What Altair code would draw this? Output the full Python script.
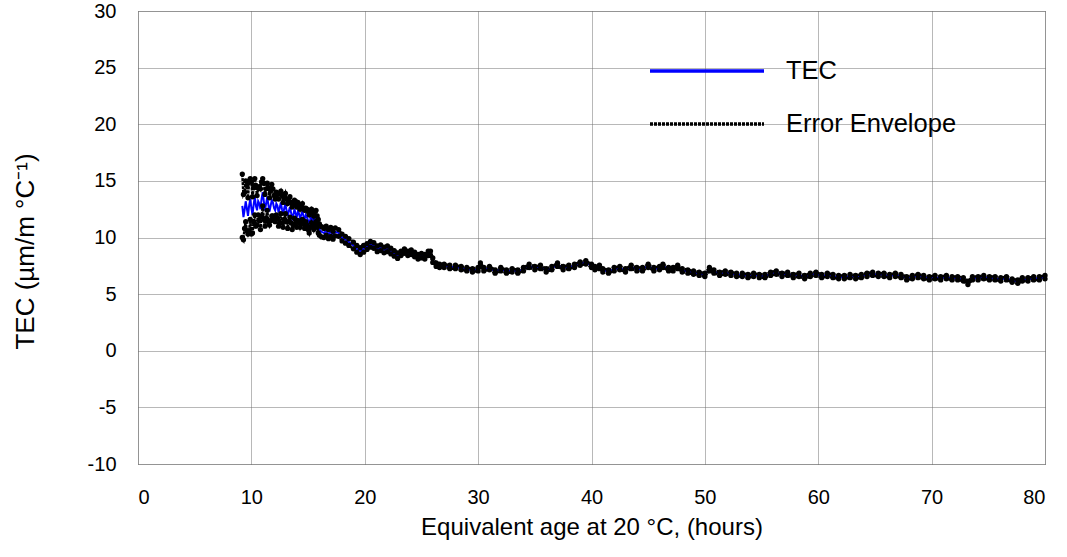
import altair as alt
import pandas as pd

# Equivalent age (hours)
hours = [
    9.2, 9.3, 9.4, 9.5, 9.6, 9.7, 9.8, 9.9, 10.0, 10.1, 10.2, 10.3, 10.4, 10.5,
    10.6, 10.7, 10.8, 10.9, 11.0, 11.1, 11.2, 11.3, 11.4, 11.5, 11.6, 11.7, 11.8,
    11.9, 12.0, 12.1, 12.2, 12.3, 12.4, 12.5, 12.6, 12.7, 12.8, 12.9, 13.0, 13.1,
    13.2, 13.3, 13.4, 13.5, 13.6, 13.7, 13.8, 13.9, 14.0, 14.1, 14.2, 14.3, 14.4,
    14.5, 14.6, 14.7, 14.8, 14.9, 15.0, 15.1, 15.2, 15.3, 15.4, 15.5, 15.6, 15.7,
    15.8, 15.9, 16.0,
    16.2, 16.4, 16.6, 16.8, 17.0,
    17.2, 17.4, 17.7, 18.0, 18.3, 18.6, 19.0, 19.3, 19.6, 19.9, 20.2, 20.5, 20.8,
    21.1, 21.4, 21.7, 22.0, 22.3, 22.6, 22.9, 23.2, 23.5, 23.8, 24.1, 24.4, 24.7,
    25.0, 25.3, 25.6, 25.8, 26.0, 26.3, 26.6, 27.0, 27.5, 28.0, 28.5, 29.0, 29.5,
    30.0, 30.2, 30.5, 31.0, 31.5, 32.0, 32.5, 33.0, 33.5, 34.0, 34.5, 35.0, 35.5,
    36.0, 36.5, 37.0, 37.5, 38.0, 38.5, 39.0, 39.5, 40.0, 40.3, 40.7, 41.0, 41.5,
    42.0, 42.5, 43.0, 43.5, 44.0, 44.5, 45.0, 45.5, 46.0, 46.3, 46.8, 47.2, 47.6,
    48.0, 48.5, 49.0, 49.5, 50.0, 50.4, 50.8, 51.3, 51.8, 52.3, 52.8, 53.3, 53.8,
    54.3, 54.8, 55.3, 55.8, 56.3, 56.8, 57.3, 57.8, 58.3, 58.8, 59.3, 59.8, 60.3,
    60.8, 61.3, 61.8, 62.3, 62.8, 63.3, 63.8, 64.3, 64.8, 65.3, 65.8, 66.3, 66.8,
    67.3, 67.8, 68.3, 68.8, 69.3, 69.8, 70.3, 70.8, 71.3, 71.8, 72.3, 72.8, 73.2,
    73.6, 74.1, 74.6, 75.1, 75.6, 76.1, 76.6, 77.1, 77.6, 78.0, 78.5, 79.0, 79.5,
    80.0,
]

# TEC (um/m/°C)
tec = [
    12.8, 11.8, 12.4, 13.2, 12.6, 11.9, 12.8, 13.4, 12.6, 12.0, 12.9, 13.6, 12.8, 12.4,
    13.2, 13.0, 12.5, 13.4, 14.0, 13.2, 12.4, 13.0, 13.6, 12.9, 12.3, 12.8, 13.3,
    13.1, 12.6, 12.4, 13.0, 12.8, 12.2, 12.6, 13.1, 12.5, 12.0, 12.6, 13.0, 12.4,
    11.9, 12.3, 12.7, 12.2, 11.7, 12.0, 12.5, 12.1, 11.8, 12.3, 12.1, 11.7, 12.0,
    12.3, 11.9, 11.6, 12.0, 11.8, 11.5, 11.2, 11.6, 11.9, 11.6, 11.3, 11.7, 11.9,
    11.4, 11.0, 10.7,
    10.5, 10.4, 10.6, 10.3, 10.5,
    10.2, 10.5, 10.4, 10.0, 9.8, 9.6, 9.3, 9.0, 8.8, 9.0, 9.2, 9.4, 9.3,
    9.0, 9.1, 8.9, 9.0, 8.8, 8.6, 8.4, 8.6, 8.8, 8.6, 8.7, 8.5, 8.3,
    8.4, 8.3, 8.6, 8.6, 8.0, 7.6, 7.5, 7.5, 7.4, 7.4, 7.3, 7.2, 7.1,
    7.2, 7.6, 7.2, 7.3, 7.0, 7.2, 7.0, 7.1, 7.0, 7.2, 7.5, 7.3, 7.4,
    7.1, 7.3, 7.6, 7.3, 7.4, 7.5, 7.7, 7.8, 7.5, 7.3, 7.4, 7.1, 7.0,
    7.2, 7.3, 7.1, 7.4, 7.2, 7.2, 7.5, 7.2, 7.3, 7.5, 7.2, 7.2, 7.4,
    7.1, 7.0, 6.9, 6.8, 6.7, 7.2, 7.0, 6.8, 6.9, 6.8, 6.7, 6.7, 6.6,
    6.7, 6.6, 6.6, 6.8, 6.9, 6.7, 6.8, 6.6, 6.7, 6.5, 6.7, 6.8, 6.6,
    6.7, 6.6, 6.5, 6.5, 6.6, 6.5, 6.6, 6.7, 6.8, 6.7, 6.7, 6.6, 6.7,
    6.6, 6.4, 6.5, 6.6, 6.5, 6.4, 6.5, 6.4, 6.5, 6.4, 6.4, 6.3, 6.0,
    6.4, 6.4, 6.5, 6.4, 6.4, 6.3, 6.4, 6.2, 6.1, 6.3, 6.3, 6.4, 6.4,
    6.5,
]

# half-width of the error envelope
err = [
    2.8, 2.0, 1.6, 1.8, 2.0, 1.6, 2.2, 1.8, 2.3, 1.6, 1.5, 1.6, 1.8, 1.3,
    1.2, 1.5, 1.8, 1.5, 1.2, 1.6, 1.4, 1.3, 1.2, 1.5, 1.2, 1.3, 1.4,
    1.2, 1.1, 1.0, 1.0, 1.1, 1.2, 1.3, 1.0, 1.2, 1.1, 1.0, 0.9, 1.0,
    1.1, 0.9, 0.9, 0.9, 1.0, 0.9, 0.8, 0.8, 0.9, 0.8, 0.8, 0.8, 0.8,
    0.7, 0.7, 0.8, 0.6, 0.7, 0.8, 0.8, 0.7, 0.6, 0.6, 0.6, 0.6, 0.5,
    0.5, 0.6, 0.5,
    0.45, 0.4, 0.4, 0.4, 0.4,
    0.35, 0.35, 0.3, 0.3, 0.3, 0.3, 0.3, 0.3, 0.3, 0.3, 0.25, 0.25, 0.25,
    0.25, 0.25, 0.25, 0.25, 0.25, 0.25, 0.25, 0.2, 0.2, 0.2, 0.2, 0.2, 0.2,
    0.2, 0.2, 0.2, 0.2, 0.2, 0.15, 0.15, 0.15, 0.15, 0.15, 0.15, 0.15, 0.15,
    0.15, 0.15, 0.15, 0.15, 0.15, 0.15, 0.15, 0.15, 0.15, 0.15, 0.15, 0.15, 0.15,
    0.15, 0.15, 0.15, 0.15, 0.15, 0.15, 0.15, 0.15, 0.15, 0.15, 0.15, 0.15, 0.15,
    0.15, 0.15, 0.15, 0.15, 0.15, 0.15, 0.15, 0.15, 0.15, 0.15, 0.15, 0.15, 0.15,
    0.15, 0.15, 0.15, 0.15, 0.15, 0.15, 0.15, 0.15, 0.15, 0.15, 0.15, 0.15, 0.15,
    0.15, 0.15, 0.15, 0.15, 0.15, 0.15, 0.15, 0.15, 0.15, 0.15, 0.15, 0.15, 0.15,
    0.15, 0.15, 0.15, 0.15, 0.15, 0.15, 0.15, 0.15, 0.15, 0.15, 0.15, 0.15, 0.15,
    0.15, 0.15, 0.15, 0.15, 0.15, 0.15, 0.15, 0.15, 0.15, 0.15, 0.15, 0.15, 0.15,
    0.15, 0.15, 0.15, 0.15, 0.15, 0.15, 0.15, 0.15, 0.15, 0.15, 0.15, 0.15, 0.15,
    0.15,
]

series_names = ["TEC", "Error Envelope"]
series_colors = ["#0000ff", "#000000"]
x_ticks = [0, 10, 20, 30, 40, 50, 60, 70, 80]
y_ticks = [-10, -5, 0, 5, 10, 15, 20, 25, 30]

rows = []
for h, t, e in zip(hours, tec, err):
    rows.append({"hours": h, "value": t, "series": "TEC", "bound": "mid"})
    rows.append({"hours": h, "value": t + e, "series": "Error Envelope", "bound": "upper"})
    rows.append({"hours": h, "value": t - e, "series": "Error Envelope", "bound": "lower"})
df = pd.DataFrame(rows)

FONT = "Liberation Sans"

x_enc = alt.X(
    "hours:Q",
    scale=alt.Scale(domain=[0, 80], nice=False),
    axis=alt.Axis(
        values=x_ticks, title="Equivalent age at 20 °C, (hours)",
        titleBaseline="middle", titleY=63, titleFontSize=24, labelPadding=23,
        labelExpr="'' + datum.value",
    ),
)
y_enc = alt.Y(
    "value:Q",
    scale=alt.Scale(domain=[-10, 30], nice=False),
    axis=alt.Axis(
        values=y_ticks, title="TEC (µm/m °C⁻¹)",
        titleBaseline="middle", titleX=-113, titleY=240, titleFontSize=26,
        labelPadding=22, labelExpr="'' + datum.value",
    ),
)
color_enc = alt.Color(
    "series:N",
    scale=alt.Scale(domain=series_names, range=series_colors),
    legend=alt.Legend(
        title=None, orient="none", legendX=510, legendY=47,
        symbolType="stroke", symbolSize=12996, symbolStrokeWidth=3.5,
        labelFontSize=25.5, labelFont=FONT, labelColor="black", labelLimit=400,
        labelOffset=20, clipHeight=26, rowPadding=26, padding=0,
    ),
)
dash_enc = alt.StrokeDash(
    "series:N",
    scale=alt.Scale(domain=series_names, range=[[1, 0], [3, 1]]),
    legend=None,
)

tec_line = alt.Chart(df).transform_filter(alt.datum.series == "TEC").mark_line(
    strokeWidth=2
).encode(x=x_enc, y=y_enc, color=color_enc, strokeDash=dash_enc, order="hours:Q")

env_line = alt.Chart(df).transform_filter(alt.datum.series == "Error Envelope").mark_line(
    strokeWidth=2.5
).encode(
    x=x_enc, y=y_enc, color=color_enc, strokeDash=dash_enc,
    detail="bound:N", order="hours:Q",
)

env_pts = alt.Chart(df).transform_filter(alt.datum.series == "Error Envelope").mark_circle(
    size=28, opacity=1, color="black"
).encode(x=x_enc, y=y_enc)

chart = alt.layer(tec_line, env_line, env_pts).properties(
    width=907, height=453,
    padding={"left": 138, "top": 11, "right": 22, "bottom": 93},
    autosize=alt.AutoSizeParams(type="none"),
    background="white",
).configure_axis(
    grid=True, gridColor="#707070", gridDash=[1, 1], gridWidth=1,
    domain=False, ticks=False, tickSize=0,
    labelFont=FONT, labelFontSize=20, labelColor="black",
    titleFont=FONT, titleColor="black", titleFontWeight="normal",
).configure_view(
    stroke="#707070", strokeDash=[1, 1], strokeWidth=1,
)

chart.save("out.html", embed_options={"renderer": "svg", "actions": False})
